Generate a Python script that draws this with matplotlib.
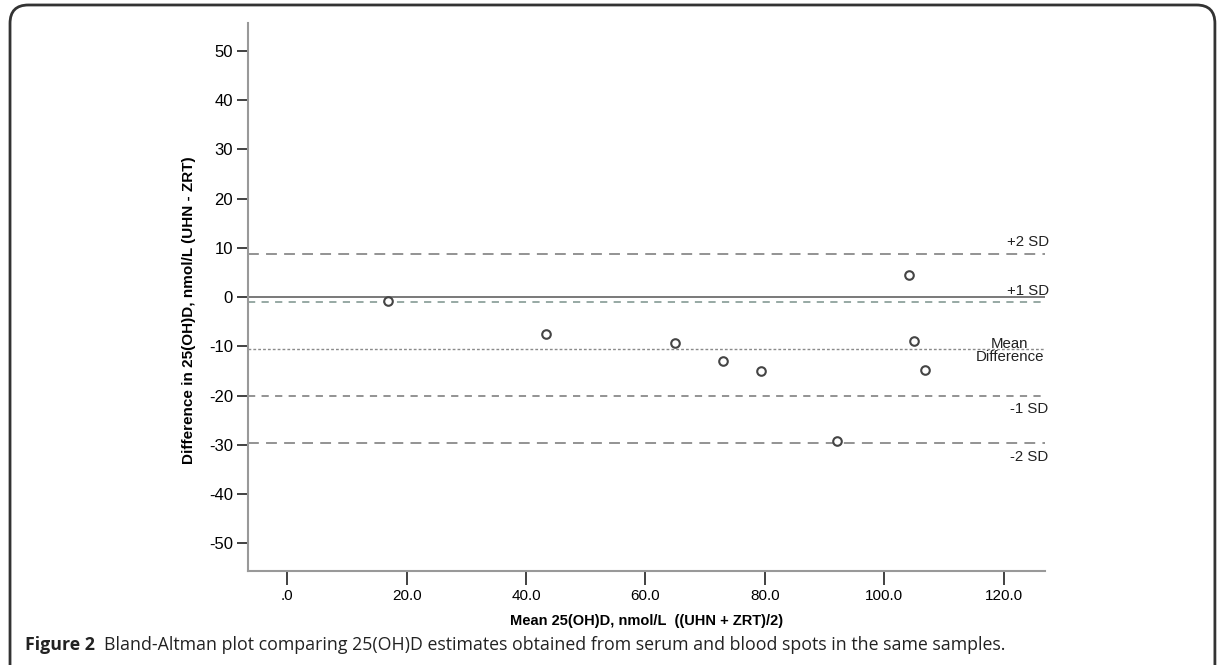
import matplotlib
matplotlib.use("Agg")
import matplotlib.pyplot as plt
from matplotlib.patches import FancyBboxPatch

# Datos (Bland-Altman)
mean_vals = [16.9, 43.4, 64.9, 72.9, 79.4, 92.1, 104.1, 104.9, 106.8]
diff_vals = [-0.85, -7.5, -9.3, -13.0, -15.1, -29.3, 4.4, -9.0, -14.9]

mean_diff = -10.5
sd_plus1 = -0.9
sd_plus2 = 8.8
sd_minus1 = -20.1
sd_minus2 = -29.6

xticks = [0, 20, 40, 60, 80, 100, 120]
xticklabels = [".0", "20.0", "40.0", "60.0", "80.0", "100.0", "120.0"]
yticks = [50, 40, 30, 20, 10, 0, -10, -20, -30, -40, -50]
yticklabels = ["50", "40", "30", "20", "10", "0", "-10", "-20", "-30", "-40", "-50"]

plt.rcParams['font.family'] = ['Liberation Sans', 'DejaVu Sans']

fig = plt.figure(figsize=(12.22, 6.65), dpi=100)
ax = fig.add_axes([0.2032, 0.1421, 0.652, 0.8238])

# Lineas de referencia
ax.axhline(0, color='#555555', lw=1.1, zorder=2)
ax.axhline(sd_plus2, color='#8a8a8a', lw=1.3, ls=(0, (6, 4)), zorder=1)
ax.axhline(sd_minus2, color='#8a8a8a', lw=1.3, ls=(0, (6, 4)), zorder=1)
ax.axhline(sd_plus1, color='#8fa39d', lw=1.3, ls=(0, (4, 3.5)), zorder=1)
ax.axhline(sd_minus1, color='#8a8a8a', lw=1.3, ls=(0, (4, 3.5)), zorder=1)
ax.axhline(mean_diff, color='#8a8a8a', lw=1.0, ls=(0, (2, 1.5)), zorder=1)

ax.scatter(mean_vals, diff_vals, s=38, facecolors='white', edgecolors='#444444',
           linewidths=1.5, zorder=3)

ax.set_xlim(-6.5, 126.9)
ax.set_ylim(-55.5, 55.7)

lab_kw = dict(fontsize=10.8, color='#222222', ha='right', va='center', clip_on=False)
ax.text(127.5, sd_plus2 + 2.4, "+2 SD", **lab_kw)
ax.text(127.5, sd_plus1 + 2.1, "+1 SD", **lab_kw)
ax.text(121.0, mean_diff - 0.3, "Mean\nDifference", fontsize=10.8, color='#222222',
        ha='center', va='center', linespacing=0.9, clip_on=False)
ax.text(127.5, sd_minus1 - 2.7, "-1 SD", **lab_kw)
ax.text(127.5, sd_minus2 - 2.9, "-2 SD", **lab_kw)

ax.set_xticks(xticks)
ax.set_xticklabels(xticklabels)
ax.set_yticks(yticks)
ax.set_yticklabels(yticklabels)

for s in ['top', 'right']:
    ax.spines[s].set_visible(False)
for s in ['left', 'bottom']:
    ax.spines[s].set_color('#999999')
    ax.spines[s].set_linewidth(1.5)

ax.tick_params(axis='y', length=8, width=1.3, color='#333333', pad=3, labelsize=12)
ax.tick_params(axis='x', length=10, width=1.3, color='#333333', pad=3, labelsize=11)

ax.set_ylabel("Difference in 25(OH)D, nmol/L (UHN - ZRT)", fontsize=11,
              fontweight='bold')
ax.yaxis.set_label_coords(-0.066, 0.475)
ax.set_xlabel("Mean 25(OH)D, nmol/L  ((UHN + ZRT)/2)", fontsize=10.5,
              fontweight='bold', labelpad=8,
              family=['Liberation Sans Narrow', 'Liberation Sans'])

# Marco redondeado y pie de figura
box = FancyBboxPatch((0.0082, -0.05), 0.986, 1.0425,
                     boxstyle="round,pad=0,rounding_size=0.015",
                     transform=fig.transFigure, fill=False,
                     edgecolor='#333333', lw=2, mutation_aspect=1.84)
fig.patches.append(box)

fig.text(0.0205, 0.030, "Figure 2", fontsize=12.8, fontweight='bold',
         color='#222222', family=['Open Sans', 'DejaVu Sans'], va='center')
fig.text(0.085, 0.030, "Bland-Altman plot comparing 25(OH)D estimates obtained from serum and blood spots in the same samples.",
         fontsize=12.8, color='#222222', family=['Open Sans', 'DejaVu Sans'], va='center')

fig.savefig("out.png", dpi=100)
